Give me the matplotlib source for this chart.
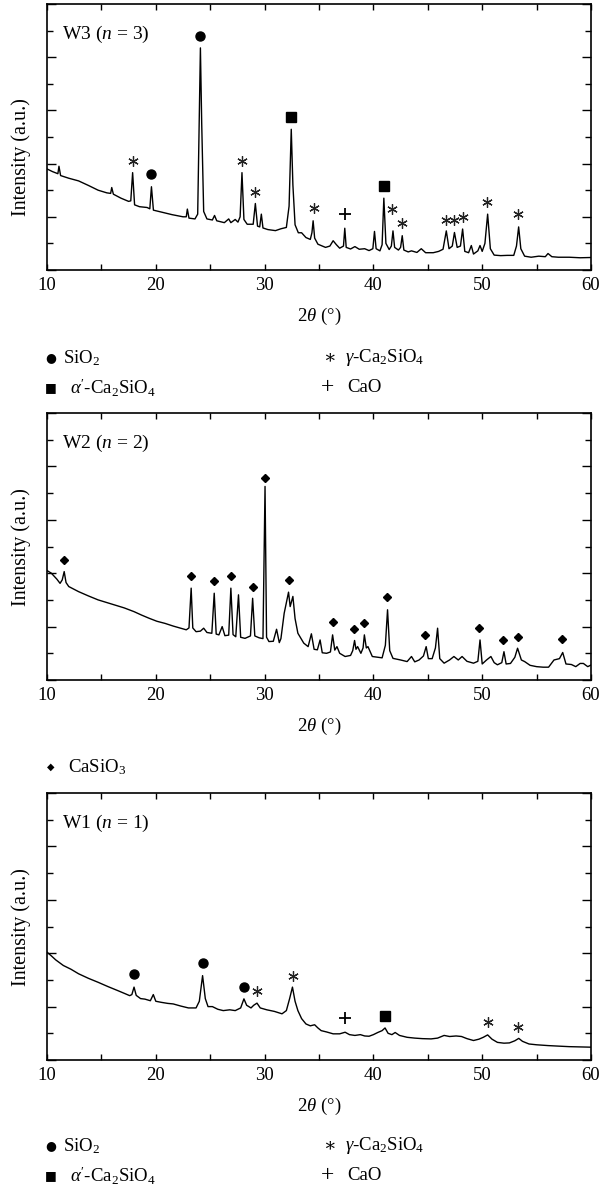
import matplotlib
matplotlib.use("Agg")
import matplotlib.pyplot as plt
from matplotlib.ticker import MultipleLocator, FixedLocator

plt.rcParams['font.family'] = ['Liberation Serif', 'DejaVu Serif']
plt.rcParams['mathtext.fontset'] = 'custom'
plt.rcParams['mathtext.rm'] = 'Liberation Serif'
plt.rcParams['mathtext.it'] = 'Liberation Serif:italic'

W, H = 614, 1192

# ---- W3 pattern (2theta, intensity in tick units) ----
w3_x = [10.0, 10.5, 11.0, 11.1, 11.25, 12.0, 12.9, 13.8, 14.7, 15.5, 15.85, 15.95, 16.1, 16.8, 17.5, 17.7,
        17.87, 18.05, 18.5, 19.2, 19.45, 19.6, 19.78, 20.5, 21.5, 22.5, 22.8, 22.9, 23.05, 23.6, 23.85,
        24.0, 24.1, 24.22, 24.4, 24.7, 25.2, 25.4, 25.6, 26.3, 26.7, 26.9, 27.3, 27.55, 27.75, 27.92,
        28.1, 28.4, 28.95, 29.15, 29.35, 29.55, 29.7, 29.85, 30.3, 31.0, 31.5, 32.0, 32.25, 32.45, 32.6,
        32.8, 33.1, 33.4, 33.8, 34.2, 34.35, 34.46, 34.6, 34.9, 35.6, 36.0, 36.3, 36.6, 36.9, 37.25,
        37.37, 37.5, 37.9, 38.3, 38.7, 39.2, 39.6, 39.95, 40.1, 40.25, 40.6, 40.8, 40.96, 41.15, 41.45,
        41.65, 41.8, 41.95, 42.3, 42.5, 42.65, 42.8, 43.2, 43.5, 44.0, 44.4, 44.8, 45.5, 46.0, 46.4,
        46.7, 46.95, 47.25, 47.45, 47.7, 48.0, 48.2, 48.4, 48.75, 49.0, 49.2, 49.6, 49.8, 50.0, 50.25,
        50.5, 50.75, 51.1, 51.7, 52.3, 52.9, 53.15, 53.35, 53.55, 53.9, 54.5, 55.2, 55.8, 56.05, 56.4,
        57.0, 58.0, 59.0, 60.0]
w3_y = [3.80, 3.70, 3.62, 3.90, 3.55, 3.45, 3.35, 3.18, 3.00, 2.90, 2.88, 3.10, 2.85, 2.70, 2.58, 2.60,
        3.66, 2.45, 2.38, 2.35, 2.30, 3.13, 2.25, 2.18, 2.08, 2.00, 2.00, 2.29, 1.95, 1.92, 2.10,
        6.00, 8.35, 5.50, 2.20, 1.92, 1.88, 2.05, 1.85, 1.78, 1.92, 1.78, 1.90, 1.80, 2.00, 3.66,
        1.90, 1.72, 1.72, 2.50, 1.65, 1.62, 2.10, 1.58, 1.52, 1.48, 1.55, 1.60, 2.40, 5.29, 3.20,
        1.70, 1.40, 1.40, 1.22, 1.15, 1.40, 1.85, 1.20, 0.97, 0.85, 0.90, 1.10, 0.95, 0.82, 0.90,
        1.57, 0.85, 0.79, 0.88, 0.78, 0.80, 0.73, 0.80, 1.45, 0.80, 0.72, 0.95, 2.70, 1.00, 0.77,
        0.90, 1.47, 0.85, 0.75, 0.85, 1.29, 0.75, 0.68, 0.72, 0.66, 0.80, 0.65, 0.65, 0.70, 0.78,
        1.47, 0.80, 0.90, 1.41, 0.85, 0.90, 1.54, 0.70, 0.65, 0.92, 0.60, 0.72, 0.92, 0.70, 1.00,
        2.10, 0.80, 0.56, 0.54, 0.55, 0.55, 0.90, 1.62, 0.80, 0.52, 0.48, 0.52, 0.50, 0.62, 0.50,
        0.48, 0.48, 0.46, 0.47]

# ---- W2 pattern ----
w2_x = [10.0, 10.4, 10.9, 11.2, 11.4, 11.58, 11.75, 12.0, 12.9, 13.8, 14.7, 15.5, 16.2, 17.1, 18.0, 18.7,
        19.4, 20.1, 20.85, 21.6, 22.3, 22.8, 23.05, 23.25, 23.4, 23.7, 24.1, 24.4, 24.7, 25.15, 25.37,
        25.55, 25.8, 26.1, 26.35, 26.7, 26.9, 27.1, 27.35, 27.6, 27.8, 28.2, 28.7, 28.9, 29.1, 29.5,
        29.85, 30.04, 30.18, 30.4, 30.8, 31.1, 31.35, 31.5, 31.8, 32.05, 32.2, 32.35, 32.6, 32.8, 33.06,
        33.6, 34.0, 34.3, 34.55, 34.85, 35.1, 35.3, 35.7, 36.05, 36.25, 36.45, 36.65, 36.9, 37.4, 37.9,
        38.1, 38.27, 38.4, 38.55, 38.85, 39.05, 39.17, 39.35, 39.5, 39.9, 40.4, 40.8, 41.1, 41.3, 41.5,
        41.8, 42.5, 43.1, 43.5, 43.8, 44.2, 44.6, 44.85, 45.05, 45.4, 45.7, 45.9, 46.1, 46.5, 47.0,
        47.4, 47.8, 48.15, 48.6, 49.2, 49.6, 49.8, 50.0, 50.4, 50.8, 51.1, 51.4, 51.8, 52.0, 52.2,
        52.6, 53.0, 53.25, 53.6, 53.9, 54.4, 55.0, 55.6, 56.1, 56.6, 57.1, 57.4, 57.7, 58.2, 58.6,
        59.0, 59.3, 59.7, 60.0]
w2_y = [4.10, 4.00, 3.78, 3.62, 3.75, 4.06, 3.65, 3.50, 3.31, 3.15, 3.00, 2.90, 2.81, 2.70, 2.56, 2.43,
        2.31, 2.20, 2.12, 2.02, 1.94, 1.88, 1.95, 3.44, 1.95, 1.81, 1.83, 1.94, 1.78, 1.75, 3.25,
        1.72, 1.69, 2.00, 1.66, 1.68, 3.44, 1.70, 1.62, 3.19, 1.60, 1.56, 1.65, 3.06, 1.65, 1.58,
        1.55, 7.25, 1.60, 1.44, 1.45, 1.90, 1.40, 1.55, 2.50, 3.00, 3.29, 2.75, 3.13, 2.30, 1.75,
        1.38, 1.25, 1.73, 1.15, 1.13, 1.50, 1.02, 1.00, 1.05, 1.69, 1.12, 1.25, 1.00, 0.88, 0.92,
        1.10, 1.48, 1.15, 1.25, 1.00, 1.20, 1.69, 1.20, 1.25, 0.88, 0.85, 0.83, 1.30, 2.63, 1.10,
        0.81, 0.75, 0.69, 0.88, 0.68, 0.75, 0.90, 1.25, 0.80, 0.80, 1.20, 1.94, 0.80, 0.63, 0.75,
        0.88, 0.75, 0.88, 0.70, 0.63, 0.70, 1.50, 0.60, 0.75, 0.88, 0.65, 0.57, 0.65, 1.06, 0.60,
        0.62, 0.85, 1.19, 0.75, 0.69, 0.55, 0.50, 0.48, 0.48, 0.75, 0.80, 1.03, 0.60, 0.58, 0.50,
        0.62, 0.62, 0.50, 0.56]

# ---- W1 pattern ----
w1_x = [10.0, 10.4, 10.8, 11.5, 12.2, 12.9, 13.8, 14.7, 15.6, 16.5, 17.2, 17.6, 17.8, 18.0, 18.2, 18.6,
        19.0, 19.5, 19.77, 20.0, 20.5, 21.1, 21.6, 22.3, 23.0, 23.7, 24.0, 24.3, 24.55, 24.8, 25.2,
        25.7, 26.2, 26.8, 27.3, 27.8, 28.1, 28.35, 28.75, 29.0, 29.3, 29.6, 30.2, 30.9, 31.6, 32.0,
        32.3, 32.56, 32.8, 33.06, 33.4, 33.8, 34.2, 34.6, 34.9, 35.2, 35.7, 36.3, 36.9, 37.4, 37.8,
        38.3, 38.8, 39.2, 39.6, 40.0, 40.4, 40.8, 41.07, 41.35, 41.7, 42.0, 42.4, 43.1, 43.8, 44.5,
        45.3, 45.9, 46.5, 47.0, 47.6, 48.1, 48.6, 49.2, 49.7, 50.1, 50.5, 50.9, 51.4, 52.0, 52.5,
        53.0, 53.36, 53.7, 54.3, 55.0, 56.05, 57.0, 58.0, 59.0, 60.0]
w1_y = [4.04, 3.90, 3.75, 3.54, 3.40, 3.23, 3.06, 2.91, 2.75, 2.60, 2.48, 2.41, 2.45, 2.73, 2.42, 2.30,
        2.28, 2.22, 2.45, 2.20, 2.16, 2.12, 2.10, 2.02, 1.95, 1.95, 2.20, 3.16, 2.30, 2.00, 2.00,
        1.90, 1.85, 1.88, 1.85, 1.95, 2.29, 2.05, 1.95, 2.05, 2.13, 1.95, 1.88, 1.82, 1.73, 1.85,
        2.30, 2.73, 2.20, 1.85, 1.55, 1.35, 1.28, 1.32, 1.20, 1.10, 1.05, 0.98, 0.98, 1.04, 0.95,
        0.92, 0.95, 0.90, 0.89, 0.95, 1.03, 1.10, 1.20, 1.00, 0.95, 1.03, 0.92, 0.85, 0.82, 0.80,
        0.79, 0.82, 0.92, 0.88, 0.90, 0.88, 0.80, 0.73, 0.78, 0.85, 0.94, 0.78, 0.66, 0.63, 0.64,
        0.72, 0.81, 0.70, 0.60, 0.57, 0.54, 0.52, 0.50, 0.49, 0.48]

# ---- phase marks (x, y) ----
w3_sio2_x = [19.6, 24.1]
w3_sio2_y = [3.60, 8.81]
w3_alpha_x = [32.45, 40.96]
w3_alpha_y = [5.75, 3.14]
w3_gamma_x = [17.87, 27.92, 29.15, 34.5, 41.75, 42.6, 46.65, 47.43, 48.25, 50.4, 53.28]
w3_gamma_y = [4.10, 4.08, 2.95, 2.33, 2.29, 1.75, 1.89, 1.89, 1.98, 2.54, 2.10]
w3_cao_x = [37.37]
w3_cao_y = [2.10]

w2_casio3_x = [11.58, 23.2, 25.34, 26.92, 28.9, 30.04, 32.23, 36.26, 38.2, 39.13, 41.29, 44.77,
               49.66, 51.95, 53.28, 57.34]
w2_casio3_y = [4.50, 3.91, 3.70, 3.89, 3.50, 7.56, 3.76, 2.16, 1.90, 2.13, 3.09, 1.68,
               1.94, 1.50, 1.60, 1.53]

w1_sio2_x = [18.0, 24.3, 28.1]
w1_sio2_y = [3.23, 3.63, 2.75]
w1_alpha_x = [41.1]
w1_alpha_y = [1.63]
w1_gamma_x = [29.32, 32.63, 50.55, 53.3]
w1_gamma_y = [2.60, 3.13, 1.41, 1.25]
w1_cao_x = [37.37]
w1_cao_y = [1.56]

panel_labels = ["W3 ($n$ = 3)", "W2 ($n$ = 2)", "W1 ($n$ = 1)"]
xtick_vals = [10, 20, 30, 40, 50, 60]

# panel boxes in pixels: (top, bottom)
boxes = [(4, 270), (413, 680), (793, 1060)]
left_px, right_px = 47, 591
ylab_centres = [157, 547, 927]

fig = plt.figure(figsize=(W / 100, H / 100), dpi=100)


def fy(y):
    return 1 - y / H


def fx(x):
    return x / W


def style_axes(ax):
    ax.set_xlim(10, 60)
    ax.set_ylim(0, 10)
    ax.xaxis.set_major_locator(FixedLocator(xtick_vals))
    ax.xaxis.set_minor_locator(MultipleLocator(5))
    ax.yaxis.set_major_locator(MultipleLocator(2))
    ax.yaxis.set_minor_locator(MultipleLocator(1))
    ax.tick_params(axis='both', which='both', direction='in', top=True, right=True, width=1.0)
    ax.tick_params(axis='x', which='both', length=4, labelsize=13.5, pad=5)
    ax.tick_params(axis='y', which='major', length=6.5, labelleft=False)
    ax.tick_params(axis='y', which='minor', length=4)
    for s in ax.spines.values():
        s.set_linewidth(1.2)


axes = []
for (top, bot) in boxes:
    ax = fig.add_axes([fx(left_px), fy(bot), (right_px - left_px) / W, (bot - top) / H])
    style_axes(ax)
    axes.append(ax)

ax3, ax2, ax1 = axes
lw = 1.0
ax3.plot(w3_x, w3_y, color='black', lw=lw)
ax2.plot(w2_x, w2_y, color='black', lw=lw)
ax1.plot(w1_x, w1_y, color='black', lw=lw)

star = (6, 2, 0)
for ax, sx, sy, ax_, ay, gx, gy, cx, cy in [
        (ax3, w3_sio2_x, w3_sio2_y, w3_alpha_x, w3_alpha_y, w3_gamma_x, w3_gamma_y, w3_cao_x, w3_cao_y),
        (ax1, w1_sio2_x, w1_sio2_y, w1_alpha_x, w1_alpha_y, w1_gamma_x, w1_gamma_y, w1_cao_x, w1_cao_y)]:
    ax.plot(sx, sy, 'o', color='black', ms=6.5, ls='none')
    ax.plot(ax_, ay, 's', color='black', ms=6.5, ls='none')
    ax.plot(gx, gy, marker=star, color='#222222', ms=7.5, mew=0.9, ls='none')
    ax.plot(cx, cy, '+', color='black', ms=9, mew=1.3, ls='none')
ax2.plot(w2_casio3_x, w2_casio3_y, 'D', color='black', ms=4.3, ls='none')

for ax, lab, (top, bot), yc in zip(axes, panel_labels, boxes, ylab_centres):
    ax.text((62 - left_px) / (right_px - left_px), 1 - 30 / (bot - top), lab,
            transform=ax.transAxes, fontsize=14, ha='left', va='center')
    fig.text(fx(21), fy(yc), "Intensity (a.u.)", rotation=90, fontsize=14.5,
             ha='center', va='center')
    fig.text(fx((left_px + right_px) / 2), fy(bot + 46), r"2$\theta$ (°)", fontsize=13.5,
             ha='center', va='center')


def phase_legend(y1, y2):
    fs = 13.5
    fig.text(fx(51), fy(y1), "●", fontsize=9, ha='center', va='center',
             family=['DejaVu Sans'])
    fig.text(fx(63), fy(y1), "SiO$_2$", fontsize=fs, ha='left', va='center')
    fig.text(fx(51), fy(y2), "■", fontsize=9, ha='center', va='center',
             family=['DejaVu Sans'])
    fig.text(fx(70), fy(y2), r"$\alpha'$-Ca$_2$SiO$_4$", fontsize=fs, ha='left', va='center')
    fig.text(fx(329), fy(y1), "∗", fontsize=fs, ha='center', va='center')
    fig.text(fx(345), fy(y1), r"$\gamma$-Ca$_2$SiO$_4$", fontsize=fs, ha='left', va='center')
    fig.text(fx(328), fy(y2), "+", fontsize=17, ha='center', va='center')
    fig.text(fx(347), fy(y2), "CaO", fontsize=fs, ha='left', va='center')


phase_legend(358, 388)
phase_legend(1146, 1176)
fig.text(fx(51), fy(767), "◆", fontsize=7, ha='center', va='center', family=['DejaVu Sans'])
fig.text(fx(68), fy(767), "CaSiO$_3$", fontsize=13.5, ha='left', va='center')

fig.savefig("out.png", dpi=100)
